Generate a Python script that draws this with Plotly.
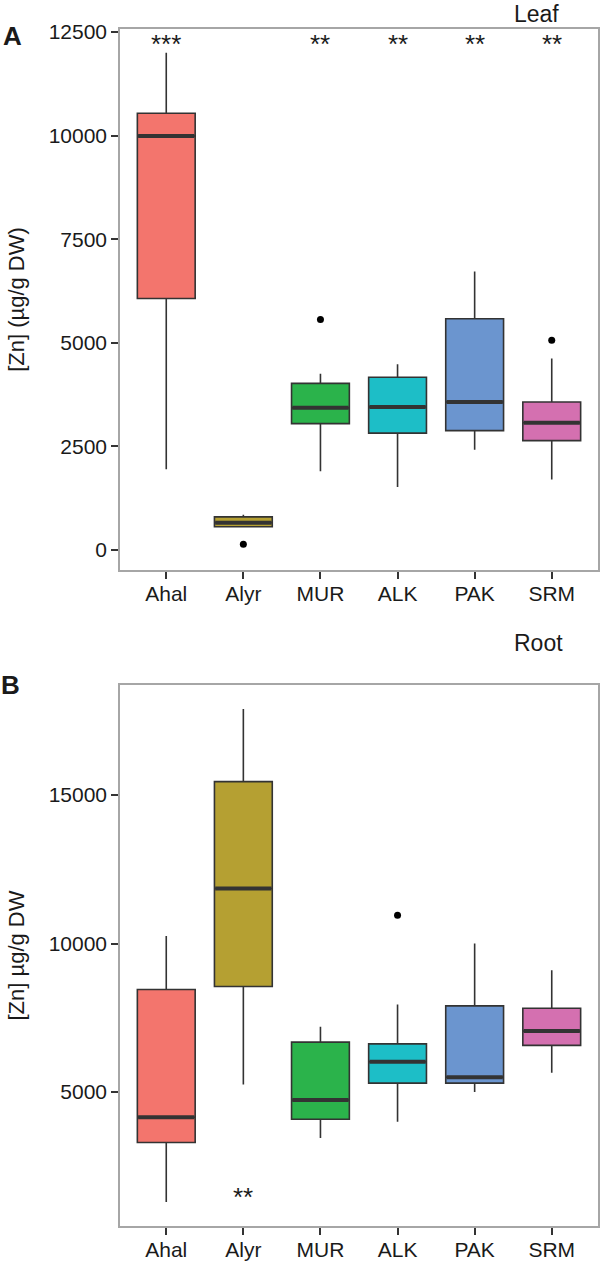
import plotly.graph_objects as go

categories = ["Ahal", "Alyr", "MUR", "ALK", "PAK", "SRM"]
colors = ["#F3756D", "#B5A032", "#2BB34B", "#1DBEC7", "#6B95CF", "#D470B0"]

# Panel A: Leaf
leaf_low = [1950, 540, 1900, 1520, 2420, 1700]
leaf_q1 = [6070, 560, 3050, 2820, 2880, 2640]
leaf_med = [9990, 660, 3430, 3450, 3570, 3070]
leaf_q3 = [10540, 800, 4020, 4170, 5580, 3570]
leaf_high = [12000, 850, 4250, 4480, 6720, 4620]
leaf_out_cat = ["Alyr", "MUR", "SRM"]
leaf_out_val = [140, 5560, 5060]
leaf_sig = ["***", "", "**", "**", "**", "**"]
leaf_sig_y = 12200
leaf_ticks = [0, 2500, 5000, 7500, 10000, 12500]

# Panel B: Root
root_low = [1300, 5250, 3450, 4000, 5000, 5650]
root_q1 = [3300, 8550, 4080, 5300, 5300, 6570]
root_med = [4150, 11850, 4730, 6020, 5500, 7050]
root_q3 = [8450, 15450, 6680, 6620, 7900, 7820]
root_high = [10250, 17900, 7200, 7950, 10000, 9100]
root_out_cat = ["ALK"]
root_out_val = [10950]
root_sig = ["", "**", "", "", "", ""]
root_sig_y = 1470
root_ticks = [5000, 10000, 15000]

FONT = "Liberation Sans, Arial, Helvetica, sans-serif"
DARK = "#333333"
TXT = "#1a1a1a"
BORDER = "#A6A6A6"
BOXW = 0.75

fig = go.Figure()

def add_panel(xa, ya, low, q1, med, q3, high, out_cat, out_val, sig, sig_y):
    for i, c in enumerate(categories):
        fig.add_trace(go.Box(
            x=[i], q1=[q1[i]], median=[med[i]], q3=[q3[i]],
            lowerfence=[low[i]], upperfence=[high[i]],
            width=BOXW, fillcolor=colors[i], whiskerwidth=0,
            line=dict(color=DARK, width=1.6), boxpoints=False,
            xaxis=xa, yaxis=ya, showlegend=False, hoverinfo="skip"))
        fig.add_trace(go.Scatter(
            x=[i - BOXW / 2 + 0.01, i + BOXW / 2 - 0.01], y=[med[i], med[i]],
            mode="lines", line=dict(color=DARK, width=4),
            xaxis=xa, yaxis=ya, showlegend=False, hoverinfo="skip"))
    fig.add_trace(go.Scatter(
        x=[categories.index(c) for c in out_cat], y=out_val, mode="markers",
        marker=dict(color="black", size=7),
        xaxis=xa, yaxis=ya, showlegend=False, hoverinfo="skip"))
    for i, s in enumerate(sig):
        if s:
            fig.add_annotation(x=i, y=sig_y, text=s, showarrow=False,
                               xref=xa, yref=ya, xanchor="center",
                               yanchor="middle",
                               font=dict(family=FONT, size=26, color=TXT))

add_panel("x", "y", leaf_low, leaf_q1, leaf_med, leaf_q3, leaf_high,
          leaf_out_cat, leaf_out_val, leaf_sig, leaf_sig_y)
add_panel("x2", "y2", root_low, root_q1, root_med, root_q3, root_high,
          root_out_cat, root_out_val, root_sig, root_sig_y)

H = 1261
axis_common = dict(showgrid=False, zeroline=False, showline=True, mirror=True,
                   linecolor=BORDER, linewidth=1.5, ticks="outside", ticklen=7,
                   tickwidth=1.6, tickcolor=DARK, automargin=False,
                   tickfont=dict(family=FONT, size=21, color=TXT))

xdom = [120 / 600, 598 / 600]
fig.update_layout(
    width=600, height=H, margin=dict(l=0, r=0, t=0, b=0, autoexpand=False),
    plot_bgcolor="white", paper_bgcolor="white",
    xaxis=dict(domain=xdom, range=[-0.6, 5.6], tickvals=list(range(6)),
               ticktext=categories, anchor="y", ticklabelstandoff=-3,
               **axis_common),
    yaxis=dict(domain=[(H - 570) / H, (H - 29) / H], range=[-483, 12572],
               tickvals=leaf_ticks, ticktext=[str(v) for v in leaf_ticks],
               anchor="x",
               title=dict(text="[Zn] (µg/g DW)", standoff=18,
                          font=dict(family=FONT, size=22, color=TXT)),
               **axis_common),
    xaxis2=dict(domain=xdom, range=[-0.6, 5.6], tickvals=list(range(6)),
                ticktext=categories, anchor="y2", ticklabelstandoff=-3,
                **axis_common),
    yaxis2=dict(domain=[(H - 1226) / H, (H - 685) / H], range=[488, 18704],
                tickvals=root_ticks, ticktext=[str(v) for v in root_ticks],
                anchor="x2",
                title=dict(text="[Zn] µg/g DW", standoff=18,
                           font=dict(family=FONT, size=22, color=TXT)),
                **axis_common),
)

# panel labels and facet titles
def label(xp, yp, text, size):
    fig.add_annotation(x=xp / 600, y=(H - yp) / H, xref="paper", yref="paper",
                       xanchor="center", yanchor="middle", text=text,
                       showarrow=False,
                       font=dict(family=FONT, size=size, color=TXT))

label(12, 36, "<b>A</b>", 26)
label(10, 685, "<b>B</b>", 26)
label(536, 14, "Leaf", 23)
label(538, 643, "Root", 23)

fig.write_html("out.html", config={"displayModeBar": False},
               post_script="document.body.style.margin='0px';"
                           "document.body.style.overflow='hidden';")
